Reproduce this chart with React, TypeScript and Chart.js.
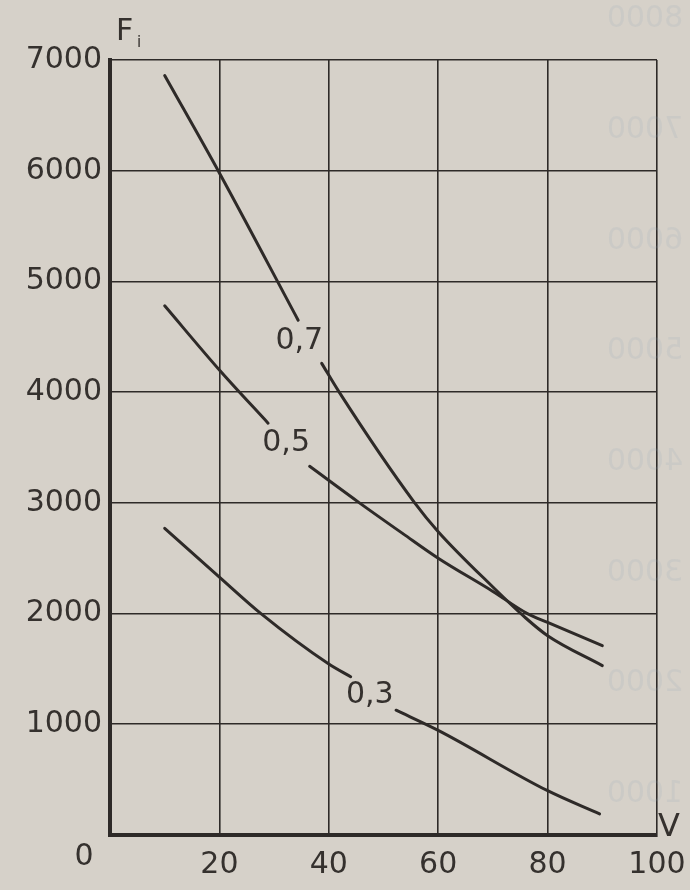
import React, { useEffect, useRef } from 'react';
import { Chart, registerables } from 'chart.js';

Chart.register(...registerables);

// Axis ticks
const vTicks = [0, 20, 40, 60, 80, 100];
const fTicks = [0, 1000, 2000, 3000, 4000, 5000, 6000, 7000];

// Curve 0,7 (null = gap for the label)
const v07 = [10, 20, 34.4, 36.5, 38.7, 41.9, 55.7, 60, 70, 76, 80, 90];
const f07 = [6860, 5980, 4650, null, 4260, 4000, 3000, 2740, 2240, 1960, 1800, 1530];

// Curve 0,5
const v05 = [10, 20, 28.9, 32.5, 36.5, 45.6, 53.6, 60, 70, 76.3, 80, 90];
const f05 = [4780, 4200, 3720, null, 3330, 3000, 2720, 2500, 2200, 2000, 1920, 1710];

// Curve 0,3
const v03 = [10, 20, 27.6, 40, 44, 48, 52.3, 60, 80, 89.5];
const f03 = [2770, 2330, 2000, 1545, 1430, null, 1127, 945, 400, 190];

// Curve labels
const curveLabels = ['0,7', '0,5', '0,3'];
const labelV = [34.6, 32.2, 47.5];
const labelF = [4460, 3540, 1265];

// Faint bleed-through numbers from the reverse page
const ghostValues = [8000, 7000, 6000, 5000, 4000, 3000, 2000, 1000];

const INK = '#2e2a28';
const TEXT = '#35312e';
const FONT = '"DejaVu Sans", sans-serif';

const pts = (xs: number[], ys: (number | null)[]) => xs.map((x, i) => ({ x, y: ys[i] }));

export default function App() {
  const ref = useRef<HTMLCanvasElement | null>(null);

  useEffect(() => {
    if (!ref.current) return;

    const overlay = {
      id: 'overlay',
      beforeDatasetsDraw(chart: any) {
        const { ctx, scales } = chart;
        const ys = scales.y;
        ctx.save();
        ctx.fillStyle = 'rgba(140,160,185,0.14)';
        ctx.font = `30px ${FONT}`;
        ctx.textAlign = 'center';
        ctx.textBaseline = 'middle';
        ghostValues.forEach((v) => {
          const y = ys.getPixelForValue(v) + 70;
          ctx.save();
          ctx.translate(645, y);
          ctx.scale(-1, 1);
          ctx.fillText(String(v), 0, 0);
          ctx.restore();
        });
        ctx.restore();
      },
      afterDatasetsDraw(chart: any) {
        const { ctx, scales, chartArea } = chart;
        const xs = scales.x;
        const ys = scales.y;
        ctx.save();
        ctx.fillStyle = TEXT;
        ctx.font = `30px ${FONT}`;
        ctx.textAlign = 'center';
        ctx.textBaseline = 'middle';
        curveLabels.forEach((t, i) => {
          ctx.fillText(t, xs.getPixelForValue(labelV[i]), ys.getPixelForValue(labelF[i]));
        });
        // origin label
        ctx.fillText('0', chartArea.left - 26, chartArea.bottom + 22);
        // axis titles
        ctx.textAlign = 'left';
        ctx.textBaseline = 'alphabetic';
        ctx.font = `30px ${FONT}`;
        ctx.fillText('F', chartArea.left + 6, chartArea.top - 20);
        ctx.font = `15px ${FONT}`;
        ctx.fillText('i', chartArea.left + 27, chartArea.top - 13);
        ctx.font = `32px ${FONT}`;
        ctx.fillText('V', chartArea.right + 1, chartArea.bottom + 1);
        ctx.restore();
      },
    };

    const lineStyle = {
      borderColor: INK,
      borderWidth: 3,
      pointRadius: 0,
      fill: false,
      spanGaps: false,
      cubicInterpolationMode: 'monotone' as const,
      borderCapStyle: 'round' as const,
    };

    const chart = new Chart(ref.current, {
      type: 'line',
      data: {
        datasets: [
          { label: '0,7', data: pts(v07, f07), ...lineStyle },
          { label: '0,5', data: pts(v05, f05), ...lineStyle },
          { label: '0,3', data: pts(v03, f03), ...lineStyle },
        ],
      },
      options: {
        responsive: false,
        animation: false,
        devicePixelRatio: 1,
        layout: { padding: { top: 60, right: 33, left: 0, bottom: 0 } },
        plugins: { legend: { display: false }, tooltip: { enabled: false } },
        scales: {
          x: {
            type: 'linear',
            min: 0,
            max: 100,
            afterBuildTicks: (scale: any) => {
              scale.ticks = vTicks.map((value) => ({ value }));
            },
            afterFit: (scale: any) => {
              scale.height = 55;
              scale.paddingLeft = 0;
              scale.paddingRight = 0;
            },
            ticks: {
              color: TEXT,
              font: { family: FONT, size: 30 },
              padding: 12,
              maxRotation: 0,
              callback: (v: any) => (v === 0 ? '' : String(v)),
            },
            grid: { color: INK, lineWidth: 1.6, drawTicks: false },
            border: { display: true, color: INK, width: 4 },
          },
          y: {
            type: 'linear',
            min: 0,
            max: 7000,
            afterBuildTicks: (scale: any) => {
              scale.ticks = fTicks.map((value) => ({ value }));
            },
            afterFit: (scale: any) => {
              scale.width = 110;
              scale.paddingTop = 0;
              scale.paddingBottom = 0;
            },
            ticks: {
              color: TEXT,
              font: { family: FONT, size: 30 },
              padding: 8,
              callback: (v: any) => (v === 0 ? '' : String(v)),
            },
            grid: { color: INK, lineWidth: 1.6, drawTicks: false },
            border: { display: true, color: INK, width: 4 },
          },
        },
      },
      plugins: [overlay],
    });

    return () => chart.destroy();
  }, []);

  return (
    <div
      style={{
        position: 'absolute',
        left: 0,
        top: 0,
        width: 690,
        height: 890,
        background: '#d6d1c9',
      }}
    >
      <canvas ref={ref} width={690} height={890} style={{ display: 'block', width: 690, height: 890 }} />
    </div>
  );
}
